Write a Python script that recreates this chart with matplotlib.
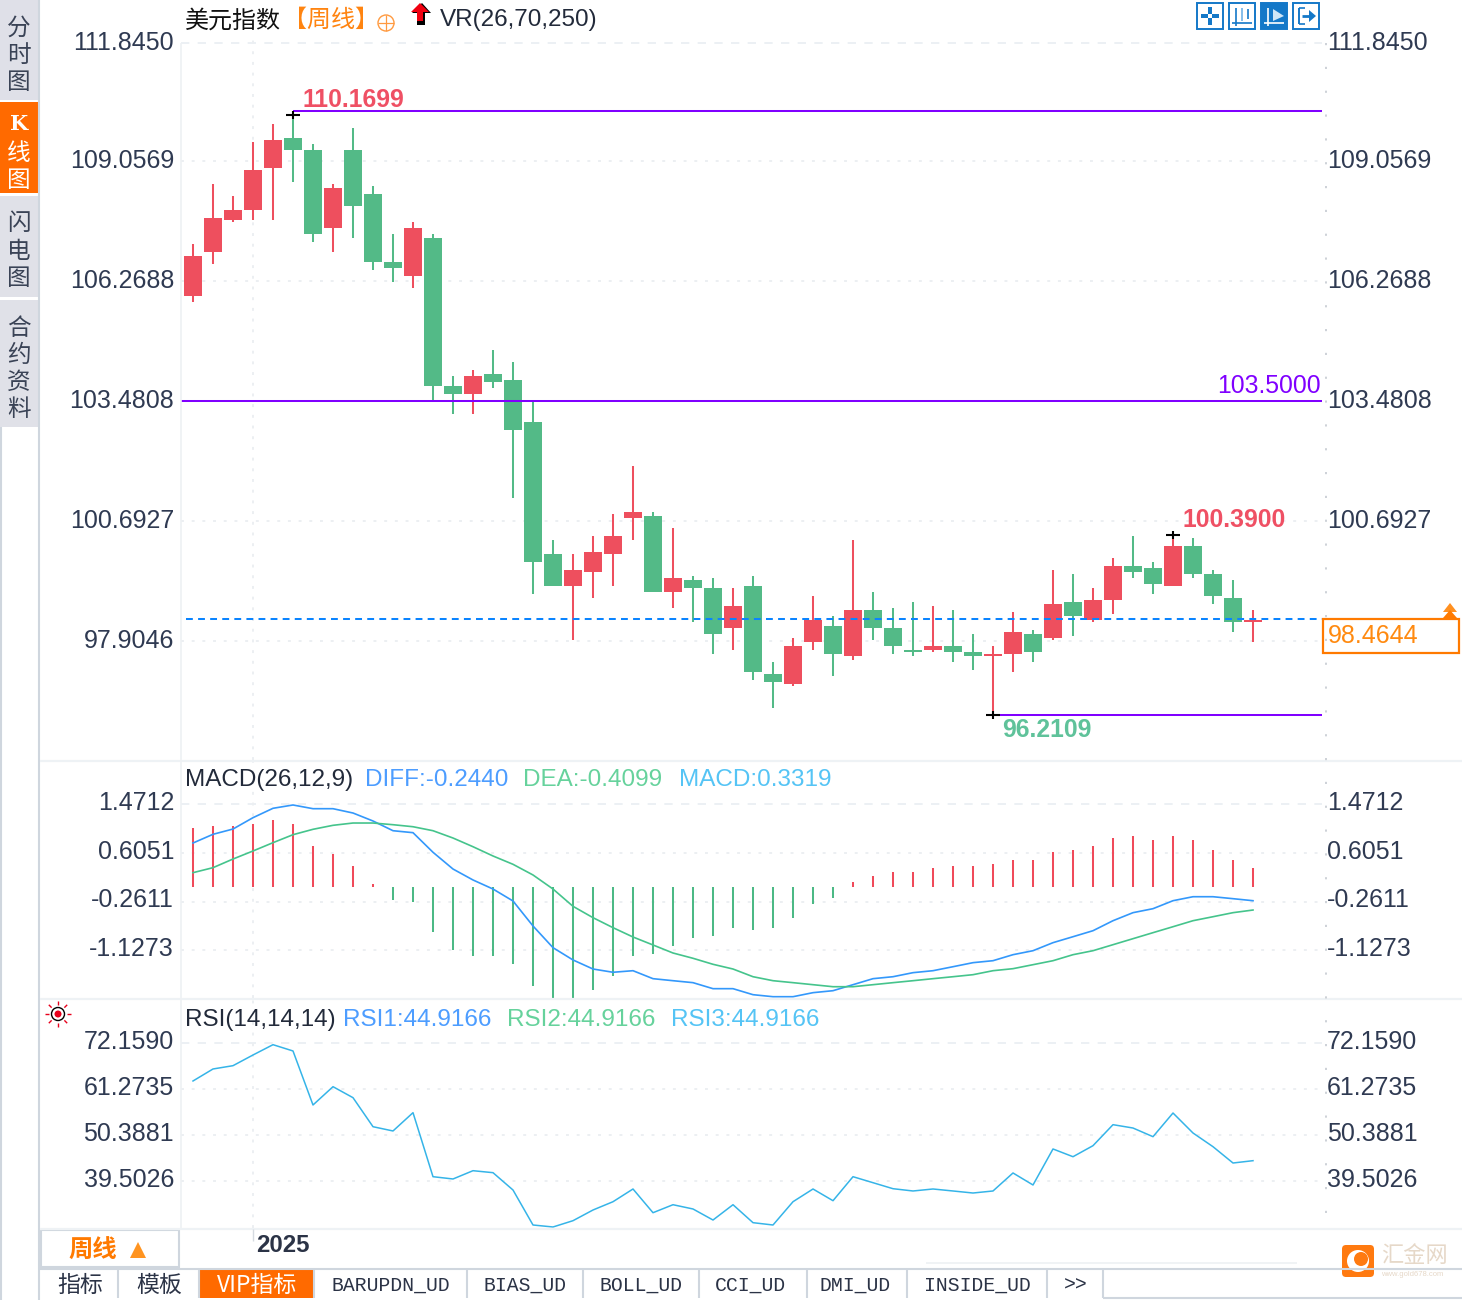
import matplotlib
matplotlib.use("Agg")
import matplotlib.pyplot as plt
import matplotlib.patches as mp
from matplotlib.transforms import ScaledTranslation
import numpy as np

plt.rcParams['font.family'] = ['Liberation Sans', 'Noto Sans CJK SC', 'DejaVu Sans']

# ---------- data ----------
highs = [107.122,108.516,108.237,109.492,109.910,110.1699,109.445,108.516,109.817,108.469,107.354,107.633,107.354,104.055,104.194,104.659,104.380,103.497,100.245,99.919,100.338,100.849,101.964,100.895,100.523,99.408,99.362,99.129,99.408,97.410,97.968,98.944,98.479,100.245,99.036,98.665,98.804,98.711,98.618,98.061,97.782,98.572,98.154,99.548,99.455,99.129,99.826,100.338,99.733,100.39,100.291,99.548,99.315,98.618]
lows = [105.774,106.657,107.633,107.680,107.680,108.562,107.168,106.936,107.261,106.518,106.239,106.100,103.497,103.172,103.172,103.776,101.220,98.990,99.176,97.921,98.897,99.176,100.245,99.036,98.665,98.339,97.596,97.689,96.992,96.341,96.852,97.689,97.085,97.457,97.921,97.596,97.549,97.642,97.410,97.224,96.18,97.178,97.410,97.921,98.014,98.339,98.525,99.362,98.990,99.176,99.362,98.758,98.107,97.875]
opens = [105.914,106.936,107.680,107.912,108.888,109.585,109.306,107.494,109.306,108.284,106.704,106.378,107.261,103.823,103.637,104.101,103.962,102.986,99.919,99.176,99.501,99.919,100.756,100.802,99.036,99.315,99.129,98.200,99.176,97.131,96.899,97.875,98.247,97.549,98.618,98.200,97.689,97.689,97.782,97.642,97.549,97.596,98.061,97.968,98.804,98.386,98.851,99.641,99.594,99.176,100.105,99.455,98.897,98.339]
closes = [106.843,107.726,107.912,108.841,109.538,109.306,107.354,108.423,108.005,106.704,106.564,107.494,103.823,103.637,104.055,103.916,102.800,99.733,99.176,99.548,99.966,100.338,100.895,99.036,99.362,99.129,98.061,98.711,97.178,96.945,97.782,98.386,97.596,98.618,98.200,97.782,97.642,97.782,97.642,97.549,97.596,98.107,97.642,98.758,98.479,98.851,99.641,99.501,99.222,100.105,99.455,98.944,98.339,98.386]
macd_hist = [1.05,1.086,1.086,1.121,1.193,1.121,.730,.587,.374,.053,-.231,-.267,-.801,-1.121,-1.228,-1.228,-1.371,-1.762,-1.976,-1.976,-1.833,-1.584,-1.228,-1.193,-1.05,-.908,-.872,-.730,-.765,-.730,-.552,-.303,-.196,.089,.196,.267,.267,.338,.374,.374,.409,.481,.481,.623,.659,.730,.872,.908,.837,.908,.837,.659,.481,.3319]
diff = [.783,.938,1.032,1.234,1.401,1.460,1.394,1.394,1.317,1.175,1.002,.967,.618,.320,.125,-.036,-.249,-.694,-1.080,-1.299,-1.460,-1.518,-1.490,-1.632,-1.668,-1.703,-1.810,-1.810,-1.917,-1.953,-1.953,-1.881,-1.846,-1.739,-1.632,-1.597,-1.525,-1.490,-1.419,-1.347,-1.312,-1.205,-1.134,-.991,-.885,-.778,-.600,-.457,-.386,-.244,-.173,-.173,-.208,-.244]
dea = [.255,.344,.498,.641,.789,.931,1.027,1.098,1.139,1.139,1.109,1.073,1.002,.872,.717,.552,.404,.214,-.036,-.344,-.546,-.724,-.890,-1.032,-1.175,-1.269,-1.376,-1.460,-1.597,-1.668,-1.703,-1.739,-1.775,-1.775,-1.739,-1.703,-1.668,-1.632,-1.597,-1.561,-1.490,-1.454,-1.383,-1.312,-1.205,-1.134,-1.027,-.920,-.813,-.707,-.600,-.529,-.457,-.41]
rsi = [63.17,66.01,66.79,69.32,71.76,70.27,57.49,61.82,59.22,52.35,51.34,55.67,40.52,39.98,41.94,41.47,37.37,29.09,28.62,30.11,32.64,34.60,37.61,32.00,33.89,32.88,30.27,33.89,29.64,29.09,34.60,37.61,34.84,40.52,39.10,37.68,37.14,37.61,37.14,36.66,37.14,41.40,38.56,47.08,45.25,47.86,52.83,52.04,49.99,55.59,50.86,47.62,43.76,44.31]

main_ticks = [111.8450, 109.0569, 106.2688, 103.4808, 100.6927, 97.9046]
macd_ticks = [1.4712, 0.6051, -0.2611, -1.1273]
rsi_ticks = [72.1590, 61.2735, 50.3881, 39.5026]
levels = [110.21, 103.475, 96.18]
last_price_line = 98.41

W, H = 1462, 1300
XL = (181, 1322)
C_RED, C_GREEN = '#ee4f5e', '#53ba87'
C_TICK = '#2f3a52'
C_GRID = '#eceff2'
C_PURPLE = '#8000ff'
C_ORANGE = '#ff7a00'
C_BORDER = '#cfd6de'
TICK_FS = 18

fig = plt.figure(figsize=(W/100, H/100), dpi=100, facecolor='white')

def make_ax(y0, y1):
    ax = fig.add_axes([XL[0]/W, 1-y1/H, (XL[1]-XL[0])/W, (y1-y0)/H])
    ax.patch.set_alpha(0)
    for s in ax.spines.values():
        s.set_visible(False)
    ax.set_xlim((XL[0]-193)/20, (XL[1]-193)/20)
    ax.set_xticks([])
    return ax

def style_ticks(ax, ticks, fmt, dy=2, top_plain=False, hide_right=()):
    ax.set_yticks(ticks)
    ax.set_yticklabels([fmt % t for t in ticks])
    ax.tick_params(axis='y', length=0, labelleft=True, labelright=True, pad=5,
                   labelsize=TICK_FS, labelcolor=C_TICK)
    for i, tk in enumerate(ax.yaxis.get_major_ticks()):
        up = 0 if (top_plain and i == 0) else dy
        tk.label1.set_transform(tk.label1.get_transform() + ScaledTranslation(0, up*0.72/72, fig.dpi_scale_trans))
        tk.label2.set_transform(tk.label2.get_transform() + ScaledTranslation(-2*0.72/72, up*0.72/72, fig.dpi_scale_trans))
        if i in hide_right:
            tk.label2.set_visible(False)

def grid(ax, ticks, top_dashed):
    for i, t in enumerate(ticks):
        if i == 0 and top_dashed is not None:
            continue
        ax.axhline(t, color=C_GRID, lw=1.4, ls=(0, (1.5, 4)), zorder=0)
    if top_dashed is not None:
        ax.axhline(top_dashed, color='#e9eef2', lw=1.2, ls=(0, (5, 5)), zorder=0)
    ax.axvline(3, color=C_GRID, lw=1.4, ls=(0, (1.5, 4)), zorder=0)

# ---------- main candles ----------
ax = make_ax(38, 760)
ax.set_ylim(95.133, 111.908)
grid(ax, main_ticks, 111.79)
style_ticks(ax, main_ticks, '%.4f', dy=2, top_plain=True, hide_right=(5,))
idx = np.arange(len(closes))
o, c = np.array(opens), np.array(closes)
cols = [C_RED if a > b else C_GREEN for a, b in zip(closes, opens)]
ax.vlines(idx, lows, highs, colors=cols, lw=1.45, zorder=2)
ax.bar(idx, np.abs(c-o), bottom=np.minimum(o, c), width=0.9, color=cols, zorder=3)
ax.axhline(last_price_line, xmin=5/(XL[1]-XL[0]), color='#0a84ff', lw=1.45, ls=(0, (3.4, 2.6)), zorder=4)
ax.hlines(levels[0], 5, (XL[1]-193)/20, color=C_PURPLE, lw=1.45, zorder=5)
ax.hlines(levels[1], (XL[0]-193)/20, (XL[1]-193)/20, color=C_PURPLE, lw=1.45, zorder=5)
ax.hlines(levels[2], 40, (XL[1]-193)/20, color=C_PURPLE, lw=1.45, zorder=5)
for xi, yi in [(5, 110.13), (49, 100.36), (40, levels[2])]:
    ax.plot([xi], [yi], marker='_', ms=10, mew=1.5, color='black', zorder=6)
    ax.plot([xi], [yi], marker='|', ms=6, mew=1.5, color='black', zorder=6)

# ---------- MACD ----------
ax2 = make_ax(761, 998)
ax2.set_ylim(-1.976, 2.243)
grid(ax2, macd_ticks, macd_ticks[0])
style_ticks(ax2, macd_ticks, '%.4f', dy=4)
hcols = [('#f04a5a' if v > 0 else '#4cb985') for v in macd_hist]
ax2.vlines(idx, 0, macd_hist, colors=hcols, lw=1.45, zorder=2)
ax2.plot(idx, diff, color='#3398fb', lw=1.2, zorder=3)
ax2.plot(idx, dea, color='#45c48c', lw=1.2, zorder=3)

# ---------- RSI ----------
ax3 = make_ax(999, 1228)
ax3.set_ylim(28.38, 82.57)
grid(ax3, rsi_ticks, rsi_ticks[0])
style_ticks(ax3, rsi_ticks, '%.4f', dy=3)
ax3.plot(idx, rsi, color='#35b4e8', lw=1.1, zorder=3)

# ---------- chrome overlay in pixel coordinates ----------
ov = fig.add_axes([0, 0, 1, 1], zorder=20)
ov.set_xlim(0, W); ov.set_ylim(H, 0); ov.axis('off'); ov.patch.set_alpha(0)

def T(x, y, s, color=C_TICK, fs=17.5, ha='left', va='center', **kw):
    ov.text(x, y+2, s, color=color, fontsize=fs, ha=ha, va=va, **kw)

def R(x, y, w, h, fc='none', ec='none', lw=0, **kw):
    ov.add_patch(mp.Rectangle((x, y), w, h, facecolor=fc, edgecolor=ec, linewidth=lw, **kw))

def L(x0, y0, x1, y1, color=C_BORDER, lw=1.4, **kw):
    ov.plot([x0, x1], [y0, y1], color=color, lw=lw, solid_capstyle='butt', **kw)

# sidebar
R(0, 0, 38, 100, fc='#dfe0e8')
R(0, 102, 38, 91, fc='#ff6a00')
R(0, 196, 38, 101, fc='#e0e1e8')
R(0, 300, 38, 127, fc='#e0e1e8')
L(39, 0, 39, 1300, lw=1.5)
L(1, 427, 1, 1300, lw=1.5)
side = [('分', 27), ('时', 54), ('图', 81), ('线', 152), ('图', 179), ('闪', 222), ('电', 250), ('图', 277),
        ('合', 327), ('约', 354), ('资', 381), ('料', 408)]
for ch, y in side:
    col = 'white' if y in (152, 179) else '#3a4356'
    T(19, y, ch, color=col, fs=17, ha='center')
T(19, 122, 'K', color='white', fs=15, ha='center', family='DejaVu Serif', weight='bold')

# frame lines
for yy in (761, 999, 1229):
    L(40, yy, W, yy, color='#eef2f5', lw=1.6)
L(181, 43, 181, 1228, color='#eef1f4', lw=1.2)
ov.plot([1326, 1326], [43, 1225], color='#c9ced4', lw=1.3, ls=(0, (1.2, 12)))
L(253, 1229, 253, 1241, color='#d5dae0', lw=1)

# header
T(185, 19, '美元指数', color='#111111', fs=17.3)
T(283, 19, '【周线】', color='#ff8410', fs=17.3)
ov.add_patch(mp.Circle((386, 23), 8, fc='none', ec='#ff9a40', lw=1))
L(378, 23, 394, 23, color='#ff9a40', lw=0.9); L(386, 15, 386, 31, color='#ff9a40', lw=0.9)
ov.add_patch(mp.Polygon([(422, 3), (431, 13), (425, 13), (425, 25), (417, 25), (417, 13), (412, 13)], fc='black'))
ov.add_patch(mp.Polygon([(420, 3), (429, 12), (423, 12), (423, 21), (417, 21), (417, 12), (411, 12)], fc='#f00010'))
T(440, 18, 'VR(26,70,250)', color='#222a3a', fs=17.5)

# annotations
T(302, 98, '110.1699', color='#ef5064', fs=17.8, weight='bold')
T(1321, 384, '103.5000', color=C_PURPLE, fs=17.8, ha='right')
T(1183, 518, '100.3900', color='#ef5064', fs=17.8, weight='bold')
T(1002, 728, '96.2109', color='#5fc29a', fs=17.8, weight='bold')

# last price box
R(1323, 619, 136, 34, fc='white', ec=C_ORANGE, lw=1.6)
T(1328, 634, '98.4644', color='#ff8a10', fs=18)
ov.add_patch(mp.Polygon([(1443, 612), (1450, 603), (1457, 612)], fc='#ff9020'))
ov.add_patch(mp.Polygon([(1443, 618), (1450, 610), (1457, 618)], fc=C_ORANGE))

# top-right icons
BL = '#1478c8'
for i, xb in enumerate((1197, 1229, 1261, 1293)):
    R(xb, 3, 26, 26, fc=(BL if i == 2 else 'white'), ec=BL, lw=1.4)
ov.add_patch(mp.Rectangle((1208, 7), 4, 7, fc=BL)); ov.add_patch(mp.Rectangle((1208, 18), 4, 7, fc=BL))
ov.add_patch(mp.Rectangle((1201, 14), 7, 4, fc=BL)); ov.add_patch(mp.Rectangle((1212, 14), 7, 4, fc=BL))
L(1236, 8, 1236, 26, color=BL, lw=1.2); L(1232, 23, 1252, 23, color=BL, lw=1.2)
L(1242, 8, 1242, 21, color='#6fb2e6', lw=1.2); L(1248, 9, 1248, 19, color=BL, lw=1.2)
L(1268, 8, 1268, 26, color='white', lw=1.2); L(1264, 23, 1284, 23, color='white', lw=1.2)
ov.add_patch(mp.Polygon([(1273, 9), (1284, 16), (1273, 21)], fc='#cfe6f7'))
L(1299, 8, 1299, 24, color=BL, lw=1.4); L(1299, 8, 1305, 8, color=BL, lw=1.2); L(1299, 24, 1305, 24, color=BL, lw=1.2)
L(1302, 16, 1310, 16, color=BL, lw=2)
ov.add_patch(mp.Polygon([(1309, 10), (1316, 16), (1309, 22)], fc=BL))

# panel legends
T(185, 778, 'MACD(26,12,9)', color='#222a3a')
T(365, 778, 'DIFF:-0.2440', color='#4d9dff')
T(523, 778, 'DEA:-0.4099', color='#66d29c')
T(679, 778, 'MACD:0.3319', color='#55c4f5')
T(185, 1018, 'RSI(14,14,14)', color='#222a3a')
T(343, 1018, 'RSI1:44.9166', color='#4d9dff')
T(507, 1018, 'RSI2:44.9166', color='#66d29c')
T(671, 1018, 'RSI3:44.9166', color='#55c4f5')

# sun icon
ov.add_patch(mp.Circle((58, 1014), 6.5, fc='white', ec='black', lw=1))
ov.add_patch(mp.Circle((58, 1014), 3.5, fc='#e8001c'))
for a in np.arange(0, 2*np.pi, np.pi/4):
    L(58+9*np.cos(a), 1014+9*np.sin(a), 58+13*np.cos(a), 1014+13*np.sin(a), color='#e8001c', lw=1)

# bottom bar
R(41, 1230, 138, 37, fc='white', ec=C_BORDER, lw=1.5)
T(93, 1249, '周线', color=C_ORANGE, fs=17.5, ha='center', weight='bold')
ov.add_patch(mp.Polygon([(130, 1258), (138, 1242), (146, 1258)], fc='#ff9420'))
T(256, 1244, '2025', color='#2b3346', fs=17.3, weight='bold')
L(926, 1263, 1297, 1263, color='#eef1f4', lw=1.2)
L(40, 1269, W, 1269, lw=1.5)
L(1103, 1298, W, 1298, lw=1.5)
R(200, 1270, 114, 28, fc='#ff6a00')
tabs = [('指标', 80, 118), ('模板', 159, 199), ('VIP指标', 257, 314), ('BARUPDN_UD', 391, 467), ('BIAS_UD', 525, 583),
        ('BOLL_UD', 641, 699), ('CCI_UD', 751, 807), ('DMI_UD', 855, 907), ('INSIDE_UD', 977, 1047), ('>>', 1076, 1103)]
for name, cx, sep in tabs:
    L(sep, 1270, sep, 1298, lw=1.5)
    is_cjk = name in ('指标', '模板', 'VIP指标')
    col = 'white' if name.startswith('VIP') else '#2b3346'
    T(cx, 1283, name, color=col, fs=16.5 if is_cjk else 14.2, ha='center',
      family=(['Noto Sans CJK SC'] if is_cjk else ['Liberation Mono']))

# logo
ov.add_patch(mp.FancyBboxPatch((1344, 1247), 28, 28, boxstyle='round,pad=2,rounding_size=4', fc='#ff7a10', ec='none'))
ov.add_patch(mp.Circle((1358, 1261), 11, fc='white'))
ov.add_patch(mp.Circle((1361, 1259), 7, fc='#ff7a10'))
T(1381, 1255, '汇金网', color='#e6d8c8', fs=16)
T(1381, 1272, 'www.gold678.com', color='#e6d8c8', fs=5.5)

fig.savefig('out.png', dpi=100, facecolor='white')
